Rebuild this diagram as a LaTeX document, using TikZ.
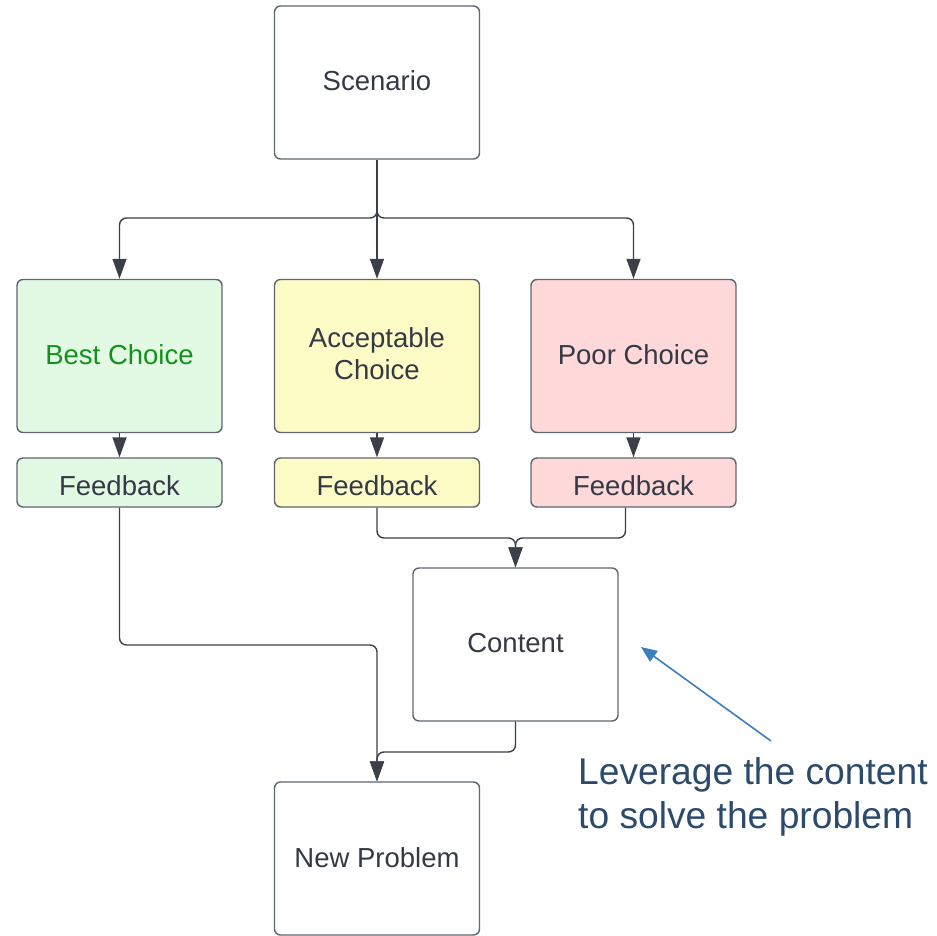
\documentclass[tikz,border=0pt]{standalone}
\usepackage{fontspec}
\setmainfont{Liberation Sans}
\usetikzlibrary{arrows.meta}
\definecolor{boxline}{HTML}{5F6670}
\definecolor{arr}{HTML}{3A3F48}
\definecolor{txt}{HTML}{333A45}
\definecolor{gfill}{HTML}{E2F9E3}
\definecolor{yfill}{HTML}{FDFBC6}
\definecolor{rfill}{HTML}{FFD8D9}
\definecolor{gtxt}{HTML}{15901F}
\definecolor{annblue}{HTML}{3A7FC0}
\definecolor{anntxt}{HTML}{2B4A6C}
\newcommand{\shiftup}[2]{\raisebox{#1}[\height][\depth]{#2}}
\tikzset{
  card/.style={draw=boxline, line width=1.4pt, rounded corners=6pt, fill=white,
    minimum width=205pt, minimum height=153pt, inner sep=0pt, align=center,
    text=txt, font=\fontsize{27.5}{33}\selectfont},
  fbbox/.style={card, minimum height=49pt},
  conn/.style={draw=arr, line width=1.4pt, rounded corners=7pt,
    -{Triangle[length=20pt,width=14pt]}},
}
\begin{document}
\begin{tikzpicture}[x=1pt,y=-1pt]
\useasboundingbox (0,0) rectangle (937,936);
\node[card] (sc) at (377,82.5) {\shiftup{1.5pt}{Scenario}};
\node[card, fill=gfill, text=gtxt] (best) at (119.5,356) {\shiftup{1.5pt}{Best Choice}};
\node[card, fill=yfill] (acc) at (377,356) {\shiftup{2.5pt}{\shortstack{Acceptable\\[3pt]Choice}}};
\node[card, fill=rfill] (poor) at (633.5,356) {\shiftup{1.5pt}{Poor Choice}};
\node[fbbox, fill=gfill] (fb1) at (119.5,482.5) {\shiftup{-3pt}{Feedback}};
\node[fbbox, fill=yfill] (fb2) at (377,482.5) {\shiftup{-3pt}{Feedback}};
\node[fbbox, fill=rfill] (fb3) at (633.5,482.5) {\shiftup{-3pt}{Feedback}};
\node[card] (ct) at (515.5,644.5) {\shiftup{1pt}{Content}};
\node[card] (np) at (377,858.5) {\shiftup{1pt}{New Problem}};
% scenario to choices
\coordinate (split) at (377,208);
\draw[conn] (sc.south) -- (acc.north);
\draw[conn] (split) -- (377,218) -| (best.north);
\draw[conn] (split) -- (377,218) -| (poor.north);
% choices to feedback
\draw[conn] (best.south) -- (fb1.north);
\draw[conn] (acc.south) -- (fb2.north);
\draw[conn] (poor.south) -- (fb3.north);
% feedback to content
\coordinate (fb3o) at ([xshift=-8pt]fb3.south);
\draw[conn] (fb2.south) -- (377,538) -| (ct.north);
\draw[conn] (fb3o) -- (625.5,538) -| (ct.north);
% to new problem
\draw[conn] (fb1.south) -- (119.5,645) -| (np.north);
\draw[conn] (ct.south) -- (515.5,752) -| (np.north);
% annotation
\coordinate (atail) at (771,741);
\coordinate (ahead) at (641,647);
\draw[draw=annblue, line width=1.6pt, -{Triangle[length=16pt,width=13pt]}] (atail) -- (ahead);
\node[anchor=north west, text=anntxt, align=left, inner sep=0pt,
  font=\fontsize{37.2}{44}\selectfont] (ann) at (578,757) {Leverage the content\\to solve the problem};
\end{tikzpicture}
\end{document}
